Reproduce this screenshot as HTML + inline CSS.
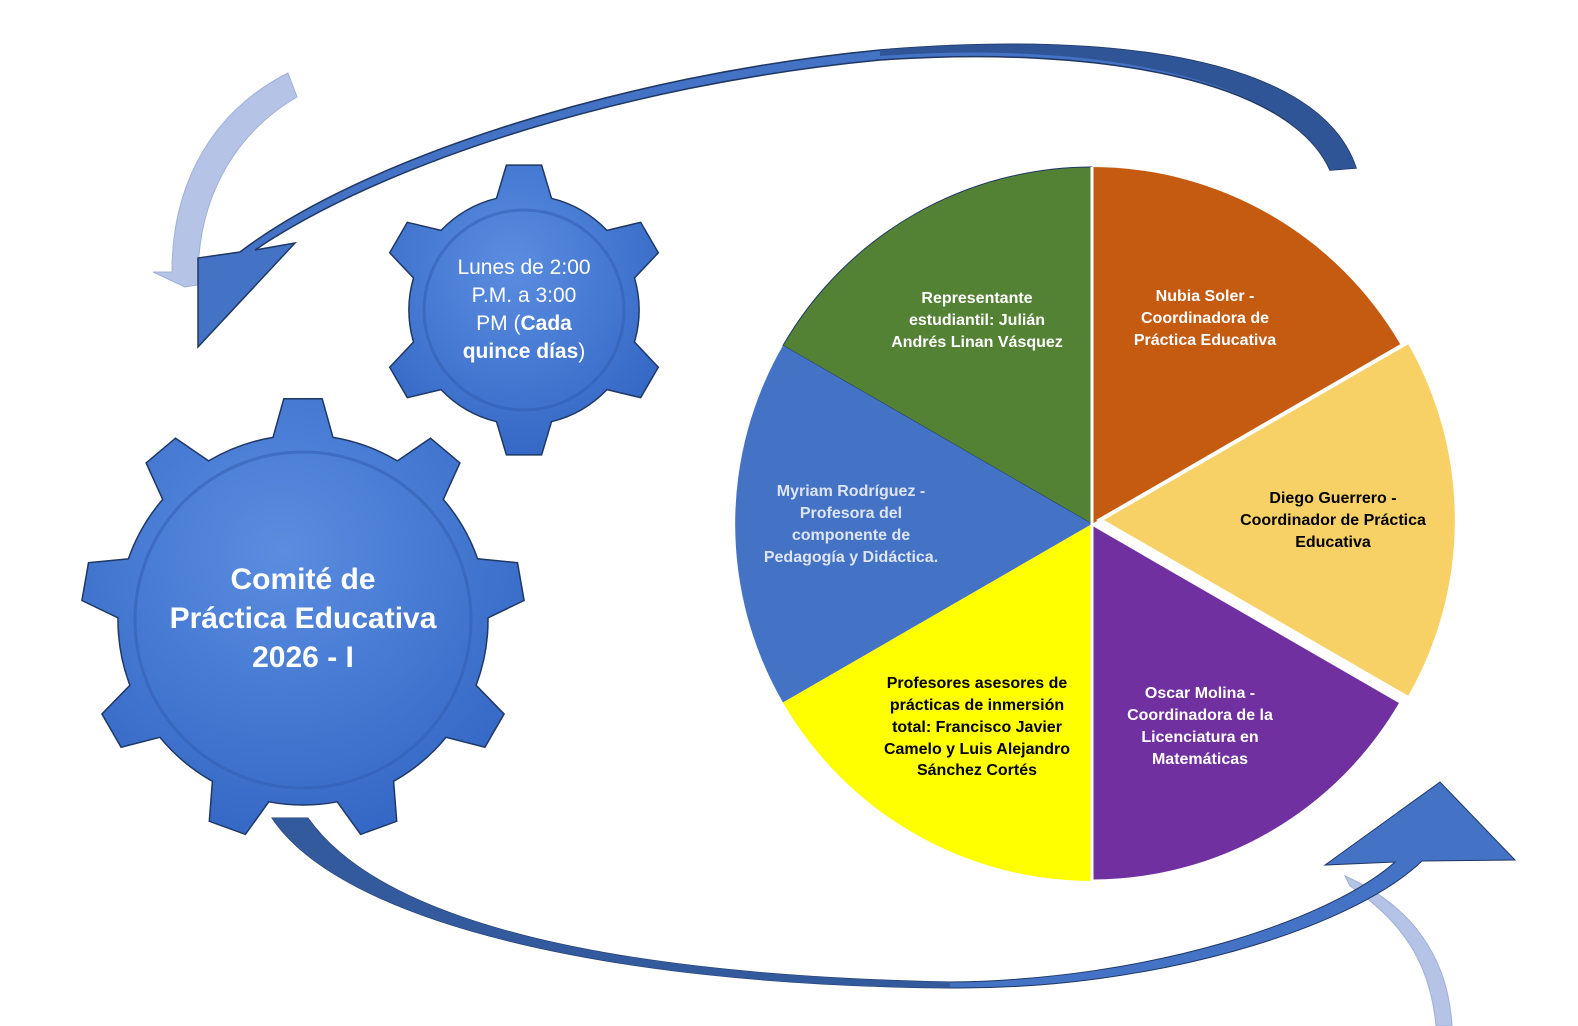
<!DOCTYPE html>
<html><head><meta charset="utf-8"><style>
html,body{margin:0;padding:0;background:#fff;width:1578px;height:1026px;overflow:hidden}
svg{display:block}
text{font-family:"Liberation Sans",sans-serif;font-weight:bold}
.n{font-weight:normal}
</style></head><body>
<svg id="s" width="1578" height="1026" viewBox="0 0 1578 1026" xmlns="http://www.w3.org/2000/svg">
<defs>
<radialGradient id="gg" cx="45%" cy="35%" r="70%"><stop offset="0" stop-color="#5a8de0"/><stop offset="1" stop-color="#3366c4"/></radialGradient>
</defs>
<path d="M288,73 L297,97 C240,130 200,190 198,272 L210,283 L185,287 L153,272 L172,272 C172,180 215,110 288,73 Z" fill="#b4c3e6" stroke="#9fb0d8" stroke-width="1"/>
<path d="M1345,876 L1350,886 C1400,920 1430,960 1436,1026 L1452,1026 C1448,955 1410,905 1345,876 Z" fill="#b4c3e6" stroke="#9fb0d8" stroke-width="1"/>
<path d="M1330,170 L1356,168 C1320,60 1120,30 880,50 C620,75 360,160 240,252 L198,258 L198,347 L295,243 L255,250 C380,165 620,85 880,60 C1100,45 1290,80 1330,170 Z" fill="#4472c4" stroke="#1f3864" stroke-width="1.5"/>
<path d="M1330,170 L1356,168 C1320,60 1120,30 880,50 L880,56 C1100,40 1290,80 1330,170Z" fill="#2f5597"/>
<path d="M272,818 L308,818 C380,920 600,975 950,982 C1150,980 1330,920 1395,862 L1325,865 L1440,782 L1515,860 L1422,861 C1350,930 1150,990 950,988 C600,985 340,920 272,818 Z" fill="#4472c4" stroke="#1f3864" stroke-width="1"/>
<path d="M272,818 L308,818 C380,920 600,975 950,982 L950,988 C600,985 340,920 272,818 Z" fill="#335a9c"/>
<g transform="translate(1092,524)">
<path d="M0,0 L0,-357 A357,357 0 0 1 309,-178.5 Z" fill="#c55a11"/>
<path d="M0,0 L-309,-178.5 A357,357 0 0 1 0,-357 Z" fill="#548235" stroke="#1f3864" stroke-width="1"/>
<path d="M0,0 L-309,178.5 A357,357 0 0 1 -309,-178.5 Z" fill="#4472c4"/>
<path d="M0,0 L0,357 A357,357 0 0 1 -309,178.5 Z" fill="#ffff00"/>
<path d="M0,0 L309,178.5 A357,357 0 0 1 0,357 Z" fill="#7030a0" stroke="#fff" stroke-width="3"/>
<path d="M8,-4 L317,-182.5 A357,357 0 0 1 317,174.5 Z" fill="#f7d166" stroke="#fff" stroke-width="4"/>
<line x1="0" y1="0" x2="0" y2="-357" stroke="#fff" stroke-width="3"/>
<line x1="0" y1="0" x2="0" y2="357" stroke="#fff" stroke-width="3"/>
</g>
<g font-size="16" text-anchor="middle">
<text fill="#fff" x="977" y="303">Representante</text>
<text fill="#fff" x="977" y="325">estudiantil: Julián</text>
<text fill="#fff" x="977" y="347">Andrés Linan Vásquez</text>
<text fill="#fff" x="1205" y="301">Nubia Soler -</text>
<text fill="#fff" x="1205" y="323">Coordinadora de</text>
<text fill="#fff" x="1205" y="345">Práctica Educativa</text>
<text fill="#000" x="1333" y="503">Diego Guerrero -</text>
<text fill="#000" x="1333" y="525">Coordinador de Práctica</text>
<text fill="#000" x="1333" y="547">Educativa</text>
<text fill="#dde4f4" x="851" y="496">Myriam Rodríguez -</text>
<text fill="#dde4f4" x="851" y="518">Profesora del</text>
<text fill="#dde4f4" x="851" y="540">componente de</text>
<text fill="#dde4f4" x="851" y="562">Pedagogía y Didáctica.</text>
<text fill="#000" x="977" y="688">Profesores asesores de</text>
<text fill="#000" x="977" y="710">prácticas de inmersión</text>
<text fill="#000" x="977" y="732">total: Francisco Javier</text>
<text fill="#000" x="977" y="754">Camelo y Luis Alejandro</text>
<text fill="#000" x="977" y="775">Sánchez Cortés</text>
<text fill="#fff" x="1200" y="698">Oscar Molina -</text>
<text fill="#fff" x="1200" y="720">Coordinadora de la</text>
<text fill="#fff" x="1200" y="742">Licenciatura en</text>
<text fill="#fff" x="1200" y="764">Matemáticas</text>
</g>
<path id="g1" fill="url(#gg)" stroke="#1f3864" stroke-width="1.5"/>
<path id="g2" fill="url(#gg)" stroke="#1f3864" stroke-width="1.5"/>
<circle cx="303" cy="620" r="168" fill="none" stroke="#2f5bb0" stroke-width="3" opacity=".5"/>
<circle cx="524" cy="310" r="100" fill="none" stroke="#2f5bb0" stroke-width="3" opacity=".5"/>
<g fill="#fff" text-anchor="middle">
<text x="303" y="589" font-size="30">Comité de</text>
<text x="303" y="628" font-size="30">Práctica Educativa</text>
<text x="303" y="667" font-size="30">2026 - I</text>
</g>
<g fill="#fff" text-anchor="middle" font-size="21">
<text x="524" y="274" class="n">Lunes de 2:00</text>
<text x="524" y="302" class="n">P.M. a 3:00</text>
<text x="524" y="330"><tspan class="n">PM (</tspan>Cada</text>
<text x="524" y="358">quince días<tspan class="n">)</tspan></text>
</g>
</svg>
<script>
function gear(cx,cy,rb,rt,n,tw,off){
 var d="",step=2*Math.PI/n;
 for(var i=0;i<n;i++){
  var a=off+i*step, h=tw/2;
  var ab=Math.asin(h*1.25/rb), at=Math.asin(h*0.8/rt);
  var p=[[rb,a-ab],[rt,a-at],[rt,a+at],[rb,a+ab]];
  for(var j=0;j<4;j++){var x=cx+p[j][0]*Math.sin(p[j][1]),y=cy-p[j][0]*Math.cos(p[j][1]);
   if(i==0&&j==0)d+="M"+x.toFixed(1)+","+y.toFixed(1);
   else if(j==0)d+=" A"+rb+","+rb+" 0 0 1 "+x.toFixed(1)+","+y.toFixed(1);
   else d+=" L"+x.toFixed(1)+","+y.toFixed(1);}
 }
 var a0=off, ab0=Math.asin(tw/2*1.25/rb);
 d+=" A"+rb+","+rb+" 0 0 1 "+(cx+rb*Math.sin(a0-ab0)).toFixed(1)+","+(cy-rb*Math.cos(a0-ab0)).toFixed(1)+"Z";
 return d;
}
document.getElementById("g1").setAttribute("d",gear(303,620,185,222,9,48,0));
document.getElementById("g2").setAttribute("d",gear(524,310,115,146,6,44,0));
</script>
</body></html>
